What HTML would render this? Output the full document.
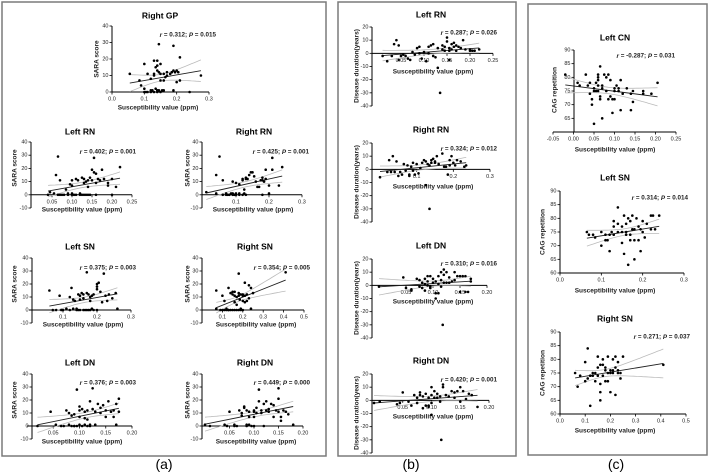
<!DOCTYPE html>
<html><head><meta charset="utf-8">
<style>
html,body{margin:0;padding:0;background:#fff;}
svg{display:block;font-family:"Liberation Sans",Arial,sans-serif;}
</style></head>
<body>
<svg id="fig" width="709" height="474" viewBox="0 0 709 474" xmlns="http://www.w3.org/2000/svg">
<rect x="2" y="2" width="324" height="454" fill="none" stroke="#7a7a7a" stroke-width="1.5"/>
<rect x="338" y="2" width="178" height="454" fill="none" stroke="#7a7a7a" stroke-width="1.5"/>
<rect x="528" y="4" width="179" height="451" fill="none" stroke="#7a7a7a" stroke-width="1.5"/>
<text x="164" y="469" font-size="14" text-anchor="middle">(a)</text>
<text x="411" y="469" font-size="14" text-anchor="middle">(b)</text>
<text x="616" y="469" font-size="14" text-anchor="middle">(c)</text>
</svg>
<script>
const gpRX=[0.055,0.085,0.09,0.1,0.1,0.1,0.11,0.12,0.13,0.13,0.13,0.135,0.14,0.14,0.14,0.145,0.145,0.15,0.15,0.15,0.16,0.16,0.165,0.17,0.17,0.18,0.185,0.19,0.19,0.195,0.2,0.2,0.21,0.21,0.205,0.275,0.19,0.24,0.12,0.125,0.13,0.135,0.14,0.15,0.155,0.105,0.11,0.16,0.12,0.14,0.145];
const gpRY=[11,7,4,17,2,0,11,8,19,11,10,15,16,13,19,29,12,17,11,7,7,11,9,10,12,11,12,28,13,12,13,6,7,21,12,10,1,0,0,1,0,2,1,0,1,0,0,1,1,0,1];
const aLRNX=[0.04,0.045,0.06,0.065,0.07,0.07,0.075,0.08,0.085,0.09,0.095,0.1,0.1,0.1,0.11,0.115,0.12,0.125,0.13,0.13,0.135,0.14,0.14,0.145,0.15,0.15,0.155,0.155,0.16,0.16,0.165,0.17,0.175,0.18,0.19,0.19,0.2,0.2,0.21,0.22,0.13,0.135,0.14,0.1,0.105,0.11,0.12,0.125,0.145,0.09,0.16,0.065,0.055];
const aLRNY=[0,2,15,29,11,0,0,0,4,0,8,11,7,1,12,11,0,13,12,9,10,11,6,13,11,19,17,28,16,9,12,11,19,12,9,7,12,0,6,21,0,0,0,0,0,0,1,0,0,1,0,0,1];
const aRRNX=[0.01,0.04,0.04,0.05,0.06,0.06,0.07,0.08,0.09,0.09,0.1,0.1,0.11,0.11,0.12,0.12,0.125,0.13,0.13,0.135,0.14,0.145,0.15,0.155,0.16,0.165,0.17,0.175,0.18,0.18,0.185,0.19,0.2,0.21,0.21,0.23,0.24,0.18,0.13,0.125,0.12,0.1,0.09,0.085,0.095,0.07,0.075,0.11,0.2,0.19];
const aRRNY=[2,1,15,29,11,0,0,0,10,1,1,9,8,1,11,12,4,12,13,12,15,17,17,14,10,6,6,11,11,13,10,19,1,19,28,7,21,0,0,1,0,0,0,1,0,1,0,0,7,12];
const aLSNX=[0.06,0.07,0.08,0.09,0.095,0.11,0.12,0.125,0.13,0.13,0.135,0.14,0.145,0.15,0.15,0.155,0.16,0.16,0.17,0.17,0.175,0.18,0.185,0.19,0.19,0.2,0.2,0.2,0.205,0.21,0.215,0.22,0.225,0.23,0.235,0.245,0.255,0.26,0.17,0.175,0.18,0.185,0.165,0.15,0.14,0.2,0.12,0.1,0.145,0.16,0.18];
const aLSNY=[15,0,0,11,0,1,10,17,8,1,7,0,12,11,8,13,12,0,13,29,12,10,11,12,0,20,18,16,21,14,6,28,11,7,12,9,13,1,0,0,0,1,0,0,1,0,0,0,0,9,7];
const aRSNX=[0.07,0.07,0.09,0.1,0.1,0.11,0.12,0.13,0.13,0.14,0.15,0.15,0.16,0.16,0.17,0.17,0.18,0.18,0.185,0.19,0.19,0.2,0.2,0.21,0.21,0.22,0.22,0.23,0.23,0.24,0.24,0.25,0.41,0.16,0.17,0.18,0.19,0.2,0.14,0.15,0.18,0.16,0.2,0.21,0.13,0.11,0.12];
const aRSNY=[15,1,0,0,11,7,0,0,17,13,12,0,14,11,10,4,28,13,8,12,1,11,7,21,11,7,12,19,9,17,1,13,29,0,0,0,0,0,0,14,11,6,12,6,0,0,1];
const aLDNX=[0.02,0.045,0.055,0.065,0.07,0.075,0.08,0.085,0.085,0.09,0.09,0.095,0.1,0.1,0.1,0.1,0.105,0.11,0.11,0.115,0.115,0.12,0.12,0.125,0.125,0.13,0.13,0.135,0.14,0.14,0.145,0.15,0.15,0.155,0.16,0.165,0.165,0.17,0.175,0.175,0.17,0.105,0.095,0.11,0.115,0.08,0.09,0.12];
const aLDNY=[0,11,1,0,0,12,10,0,8,9,0,28,15,12,7,1,13,11,6,5,12,19,0,29,13,11,1,17,14,10,16,12,7,19,11,7,12,17,21,11,1,0,0,1,0,1,0,1];
const aRDNX=[0.0,0.01,0.04,0.045,0.05,0.06,0.065,0.07,0.075,0.075,0.08,0.08,0.085,0.085,0.09,0.09,0.095,0.1,0.1,0.1,0.105,0.105,0.11,0.11,0.115,0.115,0.12,0.12,0.125,0.125,0.13,0.13,0.135,0.14,0.14,0.145,0.15,0.15,0.15,0.155,0.155,0.16,0.165,0.17,0.18,0.085,0.09,0.1,0.06];
const aRDNY=[1,0,1,0,11,0,0,12,8,10,14,15,1,12,11,7,0,12,11,7,14,10,28,19,12,10,17,0,19,12,11,13,17,16,7,12,29,21,11,7,4,12,11,9,1,0,1,0,1];
const bLRNX=[0.01,0.02,0.03,0.035,0.04,0.045,0.045,0.05,0.055,0.06,0.065,0.07,0.075,0.08,0.085,0.09,0.095,0.1,0.105,0.11,0.115,0.12,0.125,0.13,0.13,0.135,0.14,0.145,0.145,0.15,0.155,0.155,0.16,0.16,0.165,0.17,0.17,0.175,0.18,0.185,0.19,0.2,0.2,0.205,0.21,0.22,0.14,0.15,0.155,0.165,0.12,0.11,0.09];
const bLRNY=[-2,-6,-2,7,10,-5,6,-2,-1,-2,-4,-5,1,-1,4,5,-4,1,-6,5,6,7,-3,4,-11,-30,6,2,5,12,-5,2,3,7,8,6,2,5,4,10,3,2,3,2,2,3,3,9,4,5,-2,0,0];
const bRRNX=[0.0,0.02,0.025,0.03,0.035,0.04,0.045,0.05,0.055,0.06,0.065,0.07,0.075,0.08,0.085,0.09,0.095,0.1,0.105,0.11,0.12,0.125,0.125,0.13,0.135,0.14,0.14,0.145,0.15,0.155,0.16,0.17,0.175,0.18,0.185,0.19,0.19,0.195,0.2,0.205,0.21,0.22,0.23,0.235,0.15,0.135,0.115,0.09,0.08];
const bRRNY=[-6,-2,7,-2,10,-2,6,-5,-2,-4,4,-1,3,-4,2,5,-4,4,-3,1,7,6,-12,4,-30,7,5,8,6,10,4,12,2,2,-4,3,7,10,5,3,7,6,2,3,5,3,5,-1,-5];
const bLDNX=[0.0,0.045,0.05,0.06,0.06,0.07,0.075,0.075,0.08,0.08,0.085,0.085,0.09,0.09,0.095,0.095,0.1,0.1,0.105,0.105,0.118,0.105,0.11,0.11,0.115,0.115,0.12,0.12,0.125,0.125,0.13,0.13,0.135,0.14,0.14,0.145,0.15,0.15,0.155,0.16,0.16,0.165,0.17,0.17,0.09,0.095,0.11,0.115,0.12,0.085];
const bLDNY=[-1,6,-2,-4,-3,5,4,-1,2,-2,-4,5,7,3,7,-2,5,2,-10,-6,-30,3,7,1,4,10,8,12,10,2,6,2,3,10,4,7,-5,7,7,7,-5,-5,3,5,0,-1,-6,-1,2,1];
const bRDNX=[0.0,0.01,0.04,0.045,0.05,0.06,0.065,0.07,0.075,0.075,0.08,0.08,0.085,0.085,0.09,0.09,0.095,0.095,0.1,0.1,0.1,0.117,0.105,0.11,0.11,0.115,0.12,0.12,0.125,0.13,0.135,0.14,0.14,0.145,0.15,0.15,0.155,0.16,0.165,0.17,0.18,0.095,0.1,0.105,0.115];
const bRDNY=[-2,-1,-3,-2,6,-1,-4,4,2,-2,4,6,-6,3,-4,5,-5,2,10,-11,4,-30,7,5,2,3,12,10,4,3,7,6,2,7,10,-1,7,1,5,4,-5,-4,-2,2,-1];
const cLCNX=[-0.02,0.01,0.015,0.03,0.035,0.04,0.04,0.045,0.045,0.05,0.05,0.055,0.055,0.06,0.06,0.06,0.06,0.065,0.065,0.065,0.07,0.07,0.075,0.08,0.08,0.085,0.085,0.09,0.09,0.095,0.095,0.1,0.1,0.105,0.11,0.11,0.115,0.115,0.12,0.13,0.14,0.14,0.145,0.145,0.17,0.17,0.19,0.205,0.05,0.06,0.07,0.1];
const cLCNY=[81,78,77,81,77,74,78,72,70,63,75,75,78,81,80,79,77,84,73,72,76,65,81,80,75,72,81,73,79,72,67,75,72,77,76,75,79,68,74,76,74,68,71,75,75,74,74,78,76,75,77,76];
const cLSNX=[0.065,0.07,0.08,0.085,0.1,0.1,0.11,0.115,0.12,0.12,0.125,0.13,0.13,0.14,0.14,0.15,0.15,0.155,0.155,0.16,0.16,0.165,0.165,0.17,0.17,0.175,0.175,0.18,0.18,0.185,0.19,0.19,0.195,0.195,0.2,0.205,0.21,0.22,0.22,0.225,0.23,0.24,0.11,0.13,0.15,0.17,0.18,0.2,0.16,0.14];
const cLSNY=[75,74,74,73,70,75,72,72,68,74,75,79,74,84,78,71,77,67,81,78,75,80,63,79,72,81,76,65,72,80,77,72,68,76,79,73,78,81,76,81,76,81,74,77,75,74,76,75,74,75];
const cRSNX=[0.06,0.07,0.08,0.1,0.1,0.11,0.11,0.12,0.12,0.13,0.14,0.14,0.15,0.15,0.16,0.16,0.16,0.16,0.17,0.17,0.18,0.18,0.19,0.19,0.19,0.2,0.2,0.21,0.21,0.22,0.22,0.22,0.23,0.23,0.24,0.24,0.25,0.41,0.17,0.18,0.2,0.21,0.15,0.13,0.23];
const cRSNY=[75,70,74,72,79,84,73,63,74,74,75,72,81,77,71,68,65,78,80,74,72,77,81,75,72,76,68,80,75,81,67,77,76,79,73,75,81,78,78,76,75,76,74,75,75];
const tGP=[0,0.1,0.2,0.3], tGPl=["0.0","0.1","0.2","0.3"];
const tSara=[-10,0,10,20,30,40], tSara0=[0,10,20,30,40];
const tRN25=[0.05,0.10,0.15,0.20,0.25], tRN25l=["0.05","0.10","0.15","0.20","0.25"];
const t03=[0.1,0.2,0.3], t03l=["0.1","0.2","0.3"];
const t05=[0.1,0.2,0.3,0.4,0.5], t05l=["0.1","0.2","0.3","0.4","0.5"];
const t20=[0.05,0.10,0.15,0.20], t20l=["0.05","0.10","0.15","0.20"];
const tDur=[-40,-30,-20,-10,0,10,20];
const tCAG=[65,70,75,80,85,90], tCAG60=[60,65,70,75,80,85,90];
const tCN=[-0.05,0,0.05,0.10,0.15,0.20,0.25], tCNl=["-0.05","0.00","0.05","0.10","0.15","0.20","0.25"];
const t03c=[0,0.1,0.2,0.3], t03cl=["0.0","0.1","0.2","0.3"];
const t05c=[0,0.1,0.2,0.3,0.4,0.5], t05cl=["0.0","0.1","0.2","0.3","0.4","0.5"];

const NS="http://www.w3.org/2000/svg";
const svg=document.getElementById('fig');
function mk(tag,attrs,parent){const e=document.createElementNS(NS,tag);for(const k in attrs)e.setAttribute(k,attrs[k]);(parent||svg).appendChild(e);return e;}

function plot(c){
  const g=mk('g',{});
  
  
  const sx=v=>c.x0+(v-c.xmin)/(c.xmax-c.xmin)*(c.x1-c.x0);
  const sy=v=>c.yb+(v-c.ymin)/(c.ymax-c.ymin)*(c.yt-c.yb);
  const axY = c.xAxisAt!==undefined? sy(c.xAxisAt): c.yb;
  const t=mk('text',{x:c.tx,y:c.ty,'font-size':8.5,'font-weight':'bold','text-anchor':'middle','dominant-baseline':'middle'},g);t.textContent=c.title;
  
  
  const ya=mk('line',{x1:c.ax,y1:c.yt,x2:c.ax,y2:c.yb,stroke:'#000','stroke-width':1},g);
  
  
  c.yt_.forEach(v=>{const y=sy(v);mk('line',{x1:c.ax-2.5,y1:y,x2:c.ax,y2:y,stroke:'#000','stroke-width':0.8},g);
    const l=mk('text',{x:c.ax-3.5,y:y,'font-size':5.5,'text-anchor':'end','dominant-baseline':'middle',fill:'#222'},g);l.textContent=v;
    
    });
  const xa=mk('line',{x1:Math.min(c.ax,c.x0),y1:axY,x2:c.x1,y2:axY,stroke:'#000','stroke-width':1},g);
  
  
  c.xt.forEach((v,i)=>{const x=sx(v);mk('line',{x1:x,y1:axY,x2:x,y2:axY+2.5,stroke:'#000','stroke-width':0.8},g);
    const l=mk('text',{x:x,y:axY+7,'font-size':5.5,'text-anchor':'middle','dominant-baseline':'middle',fill:'#222'},g);l.textContent=c.xtl[i];
    
    });
  const xl=mk('text',{x:c.xlx,y:c.xly,'font-size':6.5,'font-weight':'bold','text-anchor':'middle','dominant-baseline':'middle',fill:'#222'},g);xl.textContent='Susceptibility value (ppm)';
  
  
  const yl=mk('text',{x:0,y:0,'font-size':6.5,'font-weight':'bold','text-anchor':'middle','dominant-baseline':'middle',fill:'#222',transform:`translate(${c.ylx},${c.yly}) rotate(-90)`},g);yl.textContent=c.ylab;
  
  
  const X=c.X,Y=c.Y,n=X.length;let mx=0,my=0;for(let i=0;i<n;i++){mx+=X[i];my+=Y[i];}mx/=n;my/=n;
  let sxx=0,sxy=0;for(let i=0;i<n;i++){sxx+=(X[i]-mx)**2;sxy+=(X[i]-mx)*(Y[i]-my);}
  const b=sxy/sxx,a=my-b*mx;let sse=0;for(let i=0;i<n;i++)sse+=(Y[i]-a-b*X[i])**2;const s=Math.sqrt(sse/(n-2));
  const lo=Math.min(...X),hi=Math.max(...X);
  let up='',dn='';for(let k=0;k<=30;k++){const x=lo+(hi-lo)*k/30;const f=a+b*x;const h=2.0*s*Math.sqrt(1/n+(x-mx)**2/sxx);
    up+=(k?'L':'M')+sx(x).toFixed(1)+','+sy(f+h).toFixed(1);dn+=(k?'L':'M')+sx(x).toFixed(1)+','+sy(f-h).toFixed(1);}
  const ci1=mk('path',{d:up,fill:'none',stroke:'#bbb','stroke-width':0.8},g);
  
  
  const ci2=mk('path',{d:dn,fill:'none',stroke:'#bbb','stroke-width':0.8},g);
  
  
  const rl=mk('line',{x1:sx(lo),y1:sy(a+b*lo),x2:sx(hi),y2:sy(a+b*hi),stroke:'#222','stroke-width':0.9},g);
  
  
  for(let i=0;i<n;i++){const p=mk('circle',{cx:sx(X[i]),cy:sy(Y[i]),r:1.3,fill:'#000'},g);
    
    }
  const st=mk('text',{x:c.sx,y:c.sy,'font-size':6.3,'font-weight':'bold','text-anchor':'end','dominant-baseline':'middle',fill:'#222'},g);
  
  
  st.innerHTML=`<tspan font-style="italic">r</tspan> = ${c.r}; <tspan font-style="italic">P</tspan> = ${c.p}`;
}
const SA='SARA score', DD='Disease duration(years)', CG='CAG repetition';
const P=[
 {name:'plot-a-right-gp',title:'Right GP',X:gpRX,Y:gpRY,x0:112,x1:209,xmin:0,xmax:0.3,yt:26,yb:92,ymin:0,ymax:40,ax:112,xt:tGP,xtl:tGPl,yt_:tSara0,tx:160,ty:16,xlx:158,xly:108,ylx:97,yly:59,ylab:SA,sx:216,sy:35,r:'0.312',p:'0.015'},
 {name:'plot-a-left-rn',title:'Left RN',X:aLRNX,Y:aLRNY,x0:32,x1:132,xmin:0,xmax:0.25,yt:142,yb:208,ymin:-10,ymax:40,xAxisAt:0,ax:31,xt:tRN25,xtl:tRN25l,yt_:tSara,tx:80,ty:132,xlx:82,xly:210,ylx:15,yly:168,ylab:SA,sx:136,sy:152,r:'0.402',p:'0.001'},
 {name:'plot-a-right-rn',title:'Right RN',X:aRRNX,Y:aRRNY,x0:203,x1:302,xmin:0,xmax:0.3,yt:142,yb:208,ymin:-10,ymax:40,xAxisAt:0,ax:202,xt:t03,xtl:t03l,yt_:tSara,tx:254,ty:132,xlx:253,xly:210,ylx:188,yly:168,ylab:SA,sx:309,sy:152,r:'0.425',p:'0.001'},
 {name:'plot-a-left-sn',title:'Left SN',X:aLSNX,Y:aLSNY,x0:29,x1:131,xmin:0,xmax:0.3,yt:258,yb:323,ymin:-10,ymax:40,xAxisAt:0,ax:32,xt:t03,xtl:t03l,yt_:tSara,tx:80,ty:247,xlx:83,xly:325,ylx:15,yly:284,ylab:SA,sx:136,sy:268,r:'0.375',p:'0.003'},
 {name:'plot-a-right-sn',title:'Right SN',X:aRSNX,Y:aRSNY,x0:202,x1:304,xmin:0,xmax:0.5,yt:258,yb:323,ymin:-10,ymax:40,xAxisAt:0,ax:202,xt:t05,xtl:t05l,yt_:tSara,tx:255,ty:247,xlx:256,xly:325,ylx:188,yly:284,ylab:SA,sx:310,sy:268,r:'0.354',p:'0.005'},
 {name:'plot-a-left-dn',title:'Left DN',X:aLDNX,Y:aLDNY,x0:27,x1:132,xmin:0,xmax:0.2,yt:374,yb:439,ymin:-10,ymax:40,xAxisAt:0,ax:32,xt:t20,xtl:t20l,yt_:tSara,tx:80,ty:363,xlx:82,xly:442,ylx:15,yly:400,ylab:SA,sx:136,sy:383,r:'0.376',p:'0.003'},
 {name:'plot-a-right-dn',title:'Right DN',X:aRDNX,Y:aRDNY,x0:205,x1:303,xmin:0,xmax:0.2,yt:374,yb:439,ymin:-10,ymax:40,xAxisAt:0,ax:202,xt:t20,xtl:t20l,yt_:tSara,tx:255,ty:363,xlx:256,xly:442,ylx:188,yly:400,ylab:SA,sx:310,sy:383,r:'0.449',p:'0.000'},
 {name:'plot-b-left-rn',title:'Left RN',X:bLRNX,Y:bLRNY,x0:378,x1:493,xmin:0,xmax:0.25,yt:27,yb:106,ymin:-40,ymax:20,xAxisAt:0,ax:372,xt:tRN25,xtl:tRN25l,yt_:tDur,tx:431,ty:15,xlx:433,xly:72,ylx:357,yly:66,ylab:DD,sx:497,sy:33,r:'0.287',p:'0.026'},
 {name:'plot-b-right-rn',title:'Right RN',X:bRRNX,Y:bRRNY,x0:380,x1:490,xmin:0,xmax:0.3,yt:143,yb:222,ymin:-40,ymax:20,xAxisAt:0,ax:372,xt:t03,xtl:t03l,yt_:tDur,tx:431,ty:130,xlx:433,xly:187,ylx:357,yly:182,ylab:DD,sx:497,sy:149,r:'0.324',p:'0.012'},
 {name:'plot-b-left-dn',title:'Left DN',X:bLDNX,Y:bLDNY,x0:379,x1:487,xmin:0,xmax:0.2,yt:259,yb:338,ymin:-40,ymax:20,xAxisAt:0,ax:372,xt:t20,xtl:t20l,yt_:tDur,tx:431,ty:246,xlx:433,xly:302,ylx:357,yly:298,ylab:DD,sx:497,sy:264,r:'0.310',p:'0.016'},
 {name:'plot-b-right-dn',title:'Right DN',X:bRDNX,Y:bRDNY,x0:374,x1:489,xmin:0,xmax:0.2,yt:374,yb:453,ymin:-40,ymax:20,xAxisAt:0,ax:372,xt:t20,xtl:t20l,yt_:tDur,tx:431,ty:361,xlx:433,xly:417,ylx:357,yly:413,ylab:DD,sx:497,sy:380,r:'0.420',p:'0.001'},
 {name:'plot-c-left-cn',title:'Left CN',X:cLCNX,Y:cLCNY,x0:553,x1:676,xmin:-0.05,xmax:0.25,yt:50,yb:132,ymin:60,ymax:90,ax:574,xt:tCN,xtl:tCNl,yt_:tCAG,tx:615,ty:38,xlx:615,xly:150,ylx:555,yly:90,ylab:CG,sx:675,sy:56,r:'-0.287',p:'0.031'},
 {name:'plot-c-left-sn',title:'Left SN',X:cLSNX,Y:cLSNY,x0:560,x1:684,xmin:0,xmax:0.3,yt:191,yb:273,ymin:60,ymax:90,ax:560,xt:t03c,xtl:t03cl,yt_:tCAG60,tx:615,ty:178,xlx:615,xly:291,ylx:543,yly:232,ylab:CG,sx:688,sy:198,r:'0.314',p:'0.014'},
 {name:'plot-c-right-sn',title:'Right SN',X:cRSNX,Y:cRSNY,x0:560,x1:686,xmin:0,xmax:0.5,yt:332,yb:414,ymin:60,ymax:90,ax:560,xt:t05c,xtl:t05cl,yt_:tCAG60,tx:615,ty:319,xlx:615,xly:431,ylx:543,yly:373,ylab:CG,sx:690,sy:337,r:'0.271',p:'0.037'}
];
P.forEach(plot);
</script>
</body></html>
